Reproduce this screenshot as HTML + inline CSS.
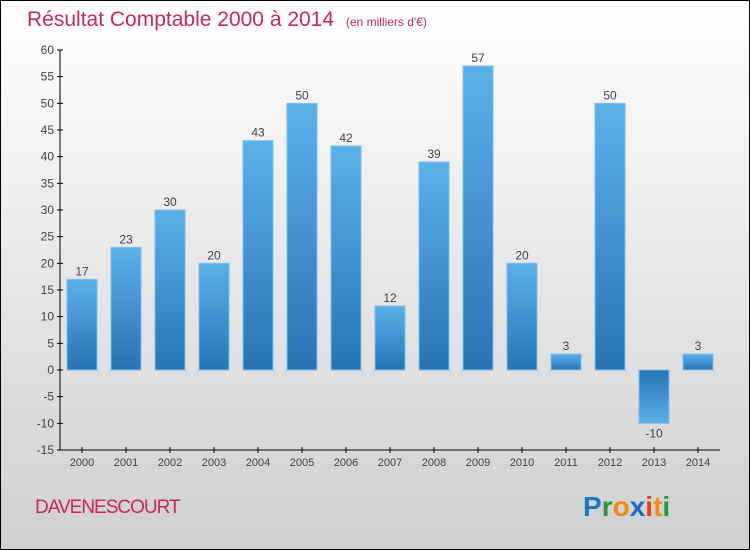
<!DOCTYPE html>
<html><head><meta charset="utf-8"><style>
body{margin:0;}
svg{display:block;font-family:"Liberation Sans",sans-serif;}
</style></head><body>
<svg id="c" width="750" height="550" xmlns="http://www.w3.org/2000/svg">
<defs>
<linearGradient id="bg" x1="0" y1="0" x2="0" y2="1"><stop offset="0" stop-color="#ffffff"/><stop offset="1" stop-color="#cfcfcf"/></linearGradient>
<linearGradient id="gp" x1="0" y1="0" x2="0" y2="1"><stop offset="0" stop-color="#5cb0e8"/><stop offset="1" stop-color="#2774b4"/></linearGradient>
<linearGradient id="gn" x1="0" y1="0" x2="0" y2="1"><stop offset="0" stop-color="#2774b4"/><stop offset="1" stop-color="#5cb0e8"/></linearGradient>
</defs>
<rect x="0.5" y="0.5" width="749" height="549" fill="url(#bg)" stroke="#000"/>
<text x="27" y="26" font-size="21" fill="#c8285a">Résultat Comptable 2000 à 2014 <tspan font-size="12" dx="6">(en milliers d'€)</tspan></text>
<g id="plot"></g>
<text x="35" y="513" font-size="19" fill="#c8285a" letter-spacing="-1">DAVENESCOURT</text>
<g font-size="28" font-weight="bold" font-family="'Liberation Sans',sans-serif">
<text x="583" y="516"><tspan fill="#1a78c8">P</tspan><tspan fill="#2a9a3a">r</tspan><tspan fill="#f08a10">o</tspan><tspan fill="#1a68c0">x</tspan><tspan fill="#e84010">i</tspan><tspan fill="#f08a10">t</tspan><tspan fill="#2a9a3a">i</tspan></text>
</g>
</svg>
<script>
const years=["2000","2001","2002","2003","2004","2005","2006","2007","2008","2009","2010","2011","2012","2013","2014"];
const values=[17,23,30,20,43,50,42,12,39,57,20,3,50,-10,3];
const yTicks=[60,55,50,45,40,35,30,25,20,15,10,5,0,-5,-10,-15];
const NS="http://www.w3.org/2000/svg";
const g=document.getElementById('plot');
const y=v=>370-v*(400/75);
const x=i=>82+i*44;
function mk(t,a,txt){const e=document.createElementNS(NS,t);for(const k in a)e.setAttribute(k,a[k]);if(txt!==undefined)e.textContent=txt;g.appendChild(e);return e;}
let e=mk('line',{x1:60,y1:y(60),x2:60,y2:y(-15),stroke:'#000'});


e=mk('line',{x1:60,y1:450,x2:720,y2:450,stroke:'#000'});


yTicks.forEach(v=>{
 mk('line',{x1:57,y1:y(v),x2:63,y2:y(v),stroke:'#000'});
 const t=mk('text',{x:54,y:y(v)+4,'font-size':12,fill:'#444','text-anchor':'end'},String(v));
 
 
});
years.forEach((yr,i)=>{
 mk('line',{x1:x(i),y1:447,x2:x(i),y2:453,stroke:'#000'});
 const t=mk('text',{x:x(i),y:466,'font-size':11,fill:'#444','text-anchor':'middle'},yr);
 
 
 const v=values[i];
 const top=Math.min(y(v),y(0)),h=Math.abs(y(v)-y(0));
 const b=mk('rect',{x:x(i)-15,y:top,width:30,height:h,fill:v>=0?'url(#gp)':'url(#gn)',stroke:'#7cc0ee','stroke-width':1});
 
 
 const l=mk('text',{x:x(i),y:v>=0?y(v)-4:y(v)+14,'font-size':12,fill:'#444','text-anchor':'middle'},String(v));
 
 
});
</script>
</body></html>
